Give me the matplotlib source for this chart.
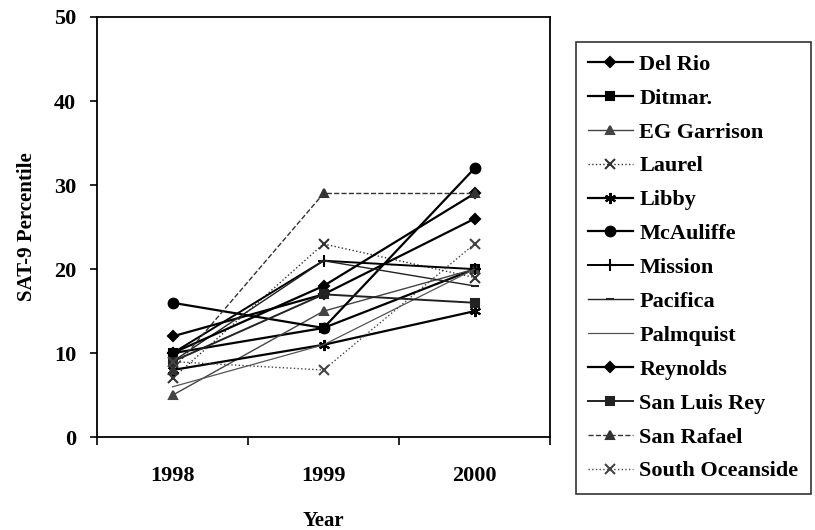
import matplotlib
matplotlib.use("Agg")
import matplotlib.pyplot as plt

plt.rcParams["font.family"] = ["Liberation Serif", "DejaVu Serif"]
plt.rcParams["font.weight"] = "bold"
plt.rcParams["axes.labelweight"] = "bold"

# Dane
years = ["1998", "1999", "2000"]
schools = ["Del Rio", "Ditmar.", "EG Garrison", "Laurel", "Libby", "McAuliffe",
           "Mission", "Pacifica", "Palmquist", "Reynolds", "San Luis Rey",
           "San Rafael", "South Oceanside"]
del_rio = [12, 17, 26]
ditmar = [10, 13, 20]
eg_garrison = [5, 15, 20]
laurel = [7, 23, 19]
libby = [8, 11, 15]
mcauliffe = [16, 13, 32]
mission = [10, 21, 20]
pacifica = [9, 21, 18]
palmquist = [6, 11, 20]
reynolds = [10, 18, 29]
san_luis_rey = [9, 17, 16]
san_rafael = [8, 29, 29]
south_oceanside = [9, 8, 23]

series = [del_rio, ditmar, eg_garrison, laurel, libby, mcauliffe, mission,
          pacifica, palmquist, reynolds, san_luis_rey, san_rafael, south_oceanside]

# styl: (marker, linestyle, kolor, grubosc, rozmiar markera)
styles = [
    ("D", "-", "black", 1.6, 5),
    ("s", "-", "black", 1.6, 5.5),
    ("^", "-", "#444444", 1.0, 6),
    ("x", ":", "#333333", 1.0, 7),
    ((6, 2, 0), "-", "black", 1.6, 8),
    ("o", "-", "black", 1.6, 7),
    ("+", "-", "black", 1.4, 8),
    ("_", "-", "#222222", 1.0, 6),
    ("", "-", "#555555", 0.9, 0),
    ("D", "-", "black", 1.6, 5),
    ("s", "-", "#222222", 1.4, 5.5),
    ("^", "--", "#333333", 1.0, 6),
    ("x", ":", "#444444", 1.0, 7),
]

fig = plt.figure(figsize=(8.15, 5.3), dpi=100)
ax = fig.add_axes([0.119, 0.175, 0.556, 0.793])

x = range(1, len(years) + 1)
handles = []
for name, vals, (m, ls, c, lw, ms) in zip(schools, series, styles):
    h, = ax.plot(x, vals, marker=m, linestyle=ls, color=c, linewidth=lw,
                 markersize=ms, markeredgewidth=1.5, label=name)
    handles.append(h)

ax.set_xlim(0.5, 3.5)
ax.set_ylim(0, 50)
ax.set_yticks(range(0, 51, 10))
ax.set_xticks(x)
ax.set_xticklabels(years)
ax.set_xticks([0.5, 1.5, 2.5, 3.5], minor=True)
ax.tick_params(axis="x", which="major", length=0, pad=21, labelsize=16)
ax.tick_params(axis="x", which="minor", length=6, width=1.2, direction="out")
ax.tick_params(axis="y", length=5, width=1.2, direction="out", labelsize=16, pad=10)
for sp in ax.spines.values():
    sp.set_linewidth(1.3)
ax.set_xlabel("Year", fontsize=15, fontweight="bold", labelpad=18)
ax.set_ylabel("SAT-9 Percentile", fontsize=15, fontweight="bold", labelpad=12)

leg = fig.legend(handles=handles, loc="upper left",
                 bbox_to_anchor=(576 / 815, 1 - 42 / 530),
                 fontsize=16, frameon=True, fancybox=False, edgecolor="black",
                 handlelength=2.0, labelspacing=0.6, borderpad=0.55,
                 handletextpad=0.3, borderaxespad=0)
leg.get_frame().set_linewidth(1.2)

fig.savefig("out.png", dpi=100)
